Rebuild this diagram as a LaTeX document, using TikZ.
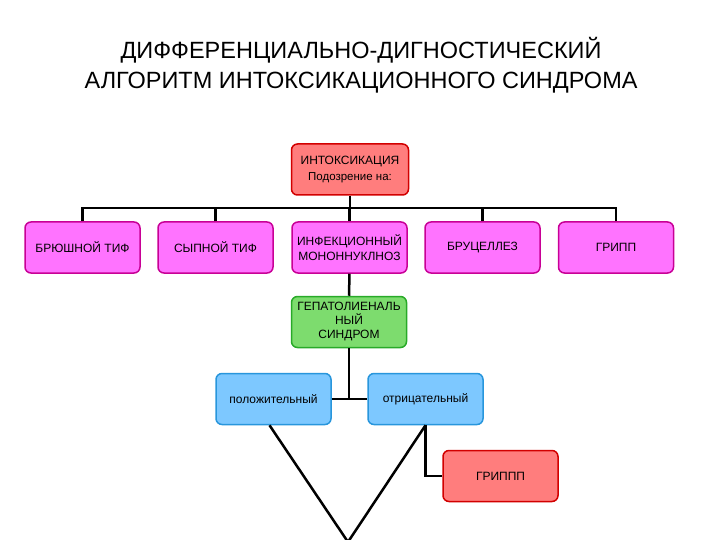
\documentclass[tikz,border=0pt]{standalone}
\usepackage{fontspec}
\setmainfont{Liberation Sans}
\usepackage{tikz}

\definecolor{pinkfill}{RGB}{255,115,255}
\definecolor{pinkline}{RGB}{200,0,150}
\definecolor{redfill}{RGB}{255,125,125}
\definecolor{redline}{RGB}{210,0,0}
\definecolor{greenfill}{RGB}{125,220,110}
\definecolor{greenline}{RGB}{40,170,40}
\definecolor{bluefill}{RGB}{125,200,255}
\definecolor{blueline}{RGB}{40,150,220}

\tikzset{
  box/.style={draw, line width=1.5pt, rounded corners=6pt, minimum width=115pt,
    minimum height=51pt, align=center, inner sep=1pt, font=\fontsize{12}{14}\selectfont},
  pinkbox/.style={box, fill=pinkfill, draw=pinkline},
  redbox/.style={box, fill=redfill, draw=redline},
  greenbox/.style={box, fill=greenfill, draw=greenline},
  bluebox/.style={box, fill=bluefill, draw=blueline},
  conn/.style={line width=2.5pt, black}
}

\begin{document}
\begin{tikzpicture}[x=1pt, y=-1pt]
      \useasboundingbox[fill=white] (0,0) rectangle (720,540);

      \node[align=center, font=\fontsize{23.5}{30}\selectfont] (title) at (361,65)
        {ДИФФЕРЕНЦИАЛЬНО-ДИГНОСТИЧЕСКИЙ\\АЛГОРИТМ ИНТОКСИКАЦИОННОГО СИНДРОМА};

      \node[redbox, minimum width=117pt] (intox) at (350,169.5)
        {ИНТОКСИКАЦИЯ\\[2pt]{\fontsize{11.5}{13}\selectfont Подозрение на:}};

      \node[pinkbox] (typh)  at (82.5,247.5)  {БРЮШНОЙ ТИФ};
      \node[pinkbox] (spot)  at (215.5,247.5) {СЫПНОЙ ТИФ};
      \node[pinkbox] (mono)  at (349.5,247.5) {ИНФЕКЦИОННЫЙ\\[1pt]МОНОННУКЛНОЗ};
      \node[pinkbox] (bruc)  at (482.5,247.5) {БРУЦЕЛЛЕЗ};
      \node[pinkbox] (flu)   at (616,247.5)   {ГРИПП};

      \node[greenbox] (hep) at (349,322) {ГЕПАТОЛИЕНАЛЬ\\НЫЙ\\СИНДРОМ};

      \node[bluebox] (pos) at (273.5,399) {положительный};
      \node[bluebox] (neg) at (425.5,399) {отрицательный};

      \node[redbox] (grippp) at (500.5,476) {ГРИППП};

      \coordinate (apex) at (348,542);

      % intoxication to the suspected diseases
      \draw[conn] (intox.south) -- (350,208) coordinate (bus);
      \foreach \n in {typh,spot,mono,bruc,flu} {
        \draw[conn] (\n.north) |- (bus);
      }

      % hepatolienal syndrome
      \draw[conn] (mono.south) -- (hep.north);
      \draw[conn] (hep.south) -- (hep.south |- pos.east);
      \draw[conn] (pos.east) -- (neg.west);

      % outcomes
      \draw[conn] ([xshift=-4pt]pos.south) -- (apex);
      \draw[conn] (neg.south) -- (apex);
      \draw[conn] (neg.south) |- (grippp.west);
    \end{tikzpicture}
\end{document}
